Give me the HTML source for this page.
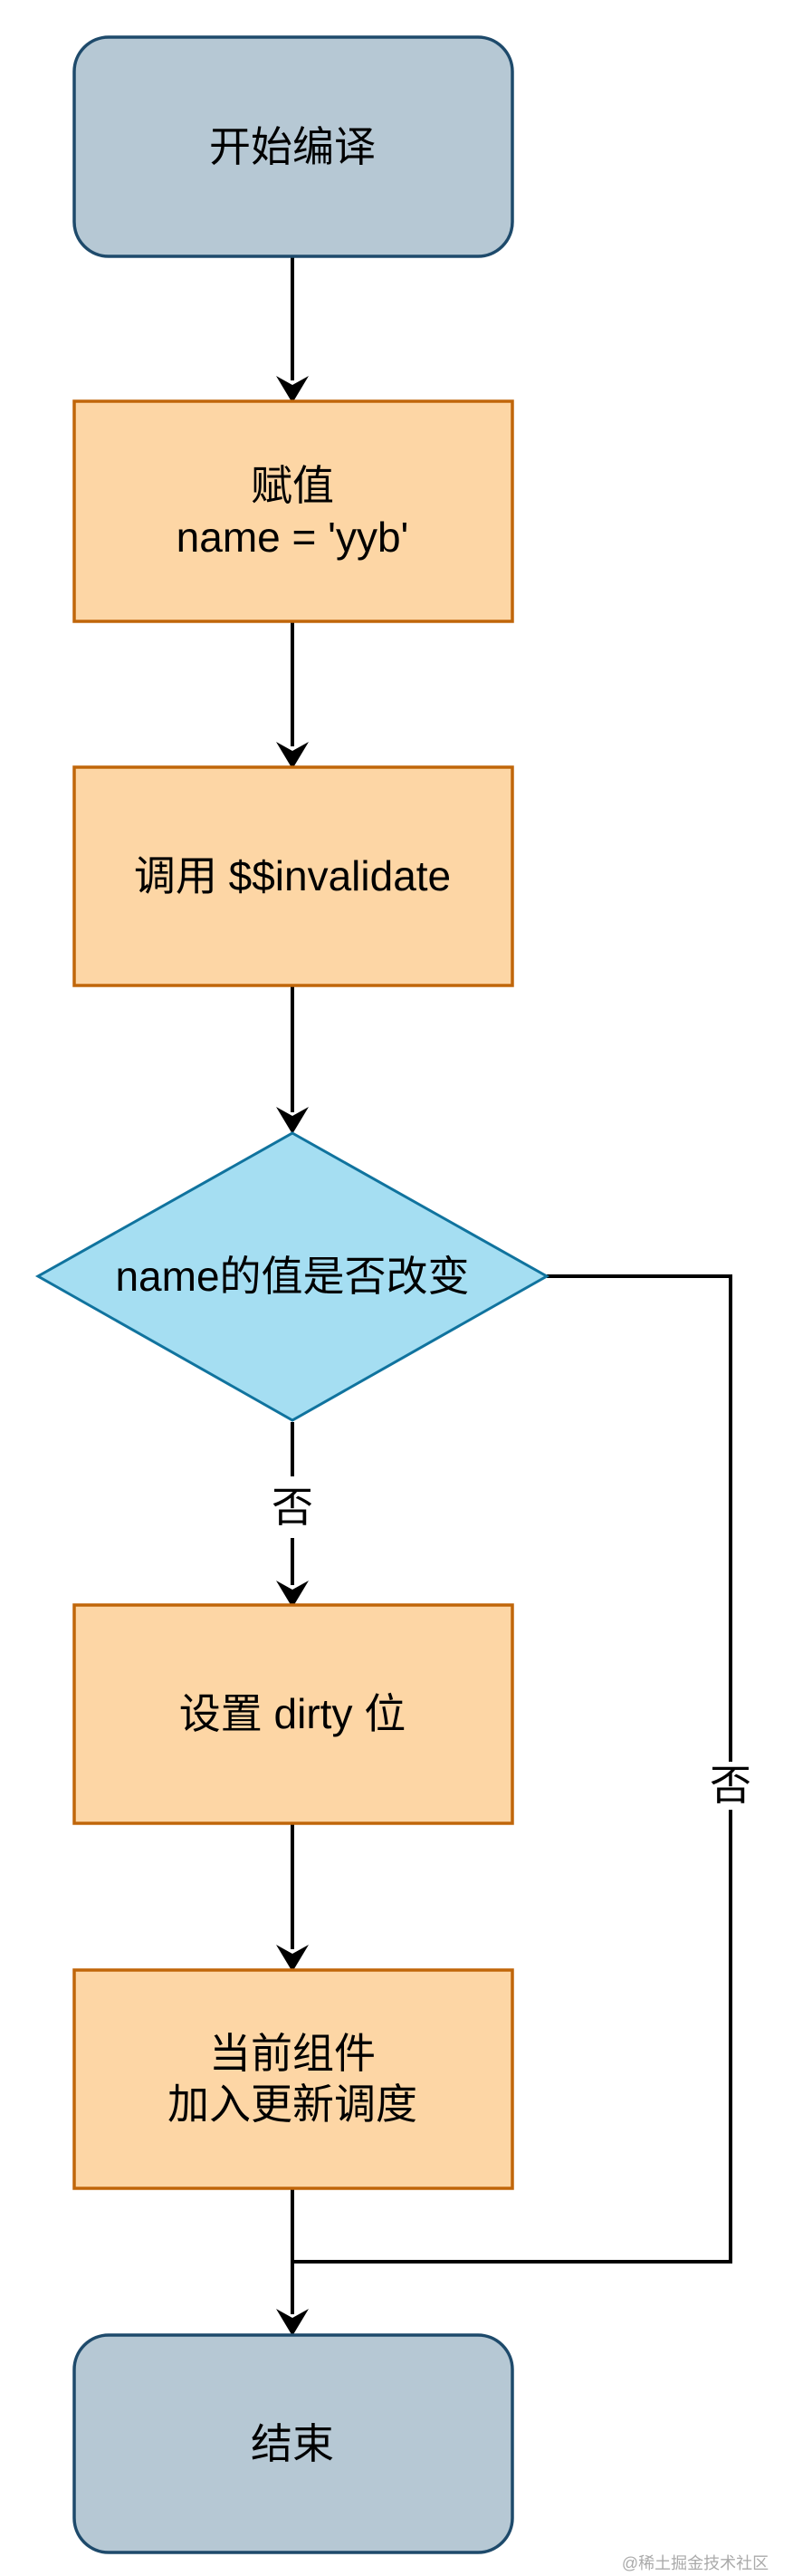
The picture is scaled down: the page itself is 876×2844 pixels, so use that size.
<!DOCTYPE html>
<html><head><meta charset="utf-8"><style>
html,body{margin:0;padding:0;background:#fff;}
svg{display:block}
text{font-family:"Liberation Sans","Noto Sans CJK SC",sans-serif;font-size:46px;fill:#000;text-anchor:middle;dominant-baseline:central}
</style></head><body>
<svg width="876" height="2844" viewBox="0 0 876 2844" xmlns="http://www.w3.org/2000/svg">
<g stroke="#000" stroke-width="4" fill="none">
<line x1="323" y1="283" x2="323" y2="420"/>
<line x1="323" y1="686" x2="323" y2="824"/>
<line x1="323" y1="1088" x2="323" y2="1228"/>
<line x1="323" y1="1570" x2="323" y2="1630"/>
<line x1="323" y1="1698" x2="323" y2="1750"/>
<line x1="323" y1="2013" x2="323" y2="2152"/>
<line x1="323" y1="2416" x2="323" y2="2555"/>
<polyline points="604,1409 807,1409 807,1945"/>
<polyline points="807,1998 807,2497 323,2497"/>
</g>
<g fill="#000">
<path d="M305,415 L323,445 L341,415 L323,425 Z"/>
<path d="M305,819 L323,849 L341,819 L323,829 Z"/>
<path d="M305,1222 L323,1252 L341,1222 L323,1232 Z"/>
<path d="M305,1745 L323,1775 L341,1745 L323,1755 Z"/>
<path d="M305,2147 L323,2177 L341,2147 L323,2157 Z"/>
<path d="M305,2549 L323,2579 L341,2549 L323,2559 Z"/>
</g>
<rect x="82" y="41" width="484" height="242" rx="38" fill="#b6c8d4" stroke="#1e4a6b" stroke-width="3.5"/>
<rect x="82" y="443" width="484" height="243" fill="#fdd6a5" stroke="#c0660a" stroke-width="3.5"/>
<rect x="82" y="847" width="484" height="241" fill="#fdd6a5" stroke="#c0660a" stroke-width="3.5"/>
<polygon points="323,1251 604,1409 323,1568 42,1409" fill="#a5def2" stroke="#10739e" stroke-width="3"/>
<rect x="82" y="1772" width="484" height="241" fill="#fdd6a5" stroke="#c0660a" stroke-width="3.5"/>
<rect x="82" y="2175" width="484" height="241" fill="#fdd6a5" stroke="#c0660a" stroke-width="3.5"/>
<rect x="82" y="2578" width="484" height="240" rx="38" fill="#b6c8d4" stroke="#1e4a6b" stroke-width="3.5"/>
<text x="323" y="162">开始编译</text>
<text x="323" y="536">赋值</text>
<text x="323" y="593">name = 'yyb'</text>
<text x="323" y="967">调用 $$invalidate</text>
<text x="323" y="1409">name的值是否改变</text>
<text x="323" y="1664">否</text>
<text x="807" y="1971">否</text>
<text x="323" y="1892">设置 dirty 位</text>
<text x="323" y="2267">当前组件</text>
<text x="323" y="2323">加入更新调度</text>
<text x="323" y="2698">结束</text>
<text x="768" y="2830" style="font-size:18px;fill:#aaa">@稀土掘金技术社区</text>
</svg>
</body></html>
